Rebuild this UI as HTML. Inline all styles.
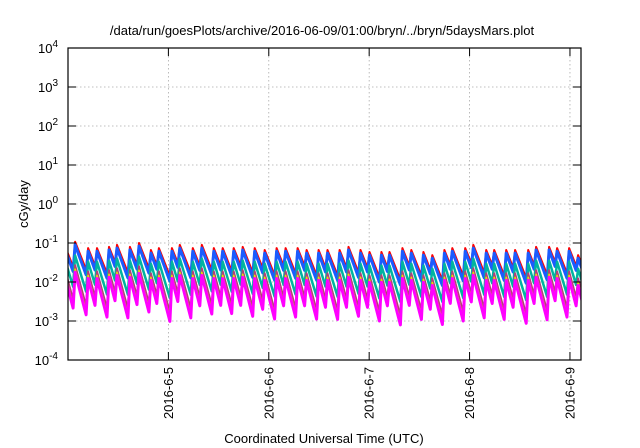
<!DOCTYPE html>
<html><head><meta charset="utf-8"><style>
html,body{margin:0;padding:0;background:#fff;}
svg{display:block;font-family:"Liberation Sans",sans-serif;}
</style></head><body>
<svg id="chart" width="640" height="448" viewBox="0 0 640 448" xmlns="http://www.w3.org/2000/svg">
<text x="322" y="35" font-size="13" text-anchor="middle">/data/run/goesPlots/archive/2016-06-09/01:00/bryn/../bryn/5daysMars.plot</text>
<text transform="translate(28,204) rotate(-90)" font-size="13" text-anchor="middle">cGy/day</text>
<text x="324" y="443" font-size="13" text-anchor="middle">Coordinated Universal Time (UTC)</text>
<g id="grid"></g>
<defs><clipPath id="clip"><rect x="68" y="48" width="513" height="312"/></clipPath></defs>
<g id="series" clip-path="url(#clip)"></g>
<rect x="68" y="48" width="513" height="312" fill="none" stroke="#000" stroke-width="1.2"/>
<g id="ticks"></g>
</svg>
<script>
const yDecades = [-4,-3,-2,-1,0,1,2,3,4];
const xTickDays = [1,2,3,4,5];
const xTickLabels = ["2016-6-5","2016-6-6","2016-6-7","2016-6-8","2016-6-9"];
const spikeTimes = [-0.03,0.071,0.200,0.289,0.408,0.488,0.617,0.707,0.826,0.905,1.035,1.114,1.243,1.333,1.452,1.541,1.651,1.740,1.860,1.959,2.078,2.168,2.287,2.377,2.496,2.585,2.705,2.794,2.914,3.003,3.122,3.202,3.331,3.420,3.540,3.629,3.749,3.828,3.957,4.037,4.166,4.245,4.365,4.454,4.584,4.663,4.792,4.872,4.991,5.081];
const spikePeaksLog = [-1.08,-0.97,-1.13,-1.13,-1.10,-1.05,-1.10,-1.0,-1.18,-1.13,-1.13,-1.05,-1.13,-1.05,-1.13,-1.13,-1.13,-1.10,-1.13,-1.18,-1.13,-1.13,-1.13,-1.18,-1.18,-1.18,-1.18,-1.10,-1.18,-1.23,-1.23,-1.23,-1.13,-1.18,-1.23,-1.31,-1.18,-1.13,-1.13,-1.05,-1.18,-1.18,-1.18,-1.18,-1.18,-1.10,-1.10,-1.13,-1.13,-1.31];
const seriesColors = ["#ff0000","#1a5cff","#00b4a0","#b0407a","#e8e000","#ff00ff"];
const seriesOffsets = [0,-0.08,-0.35,-0.6,-0.7,-0.78];
const seriesDecays = [6.5,7,8.5,9.5,9.8,10];
const seriesWidths = [2,3,2.5,2,1.5,3];

const X0=68, X1=581, Y0=48, Y1=360, D0=0, D1=5.11;
const xs = d => X0 + (d-D0)/(D1-D0)*(X1-X0);
const ys = l => Y1 - (l+4)/8*(Y1-Y0);
const NS="http://www.w3.org/2000/svg";
function mk(tag, attrs, parent){const e=document.createElementNS(NS,tag);for(const k in attrs)e.setAttribute(k,attrs[k]);parent.appendChild(e);return e;}
const grid=document.getElementById('grid'), ticks=document.getElementById('ticks'), ser=document.getElementById('series');

yDecades.forEach(p=>{
  const y=ys(p);
  if(p>-4&&p<4){const g=mk('line',{x1:X0,x2:X1,y1:y,y2:y,stroke:'#aaa','stroke-width':0.8,'stroke-dasharray':'1.5,2.5'},grid);
  
  }
  const t1=mk('line',{x1:X0,x2:X0+8,y1:y,y2:y,stroke:'#000','stroke-width':1},ticks);
  
  
  const t2=mk('line',{x1:X1-8,x2:X1,y1:y,y2:y,stroke:'#000','stroke-width':1},ticks);
  
  
  const tx=mk('text',{x:58,y:y+5,'font-size':13,'text-anchor':'end'},ticks);
  
  
  const b=document.createElementNS(NS,'tspan');b.textContent='10';tx.appendChild(b);
  const s=mk('tspan',{dy:-6,'font-size':10},tx);s.textContent=String(p);
});
xTickDays.forEach((d,i)=>{
  const x=xs(d);
  const g=mk('line',{x1:x,x2:x,y1:Y0,y2:Y1,stroke:'#aaa','stroke-width':0.8,'stroke-dasharray':'1.5,2.5'},grid);
  
  
  const t1=mk('line',{x1:x,x2:x,y1:Y1-8,y2:Y1,stroke:'#000','stroke-width':1},ticks);
  
  
  const t2=mk('line',{x1:x,x2:x,y1:Y0,y2:Y0+8,stroke:'#000','stroke-width':1},ticks);
  
  
  const tx=mk('text',{transform:`translate(${x+4.5},367) rotate(-90)`,'font-size':13,'text-anchor':'end'},ticks);
  
  
  tx.textContent=xTickLabels[i];
});
seriesColors.forEach((c,si)=>{
  const off=seriesOffsets[si], dec=seriesDecays[si];
  const pts=[];
  for(let i=0;i<spikeTimes.length;i++){
    const t=spikeTimes[i], pk=spikePeaksLog[i]+off;
    if(i>0){const pt=spikeTimes[i-1], ppk=spikePeaksLog[i-1]+off;
      pts.push([xs(t-0.02), ys(ppk-dec*(t-0.02-pt))]);}
    pts.push([xs(t), ys(pk)]);
    if(i===spikeTimes.length-1) pts.push([xs(D1+0.2), ys(pk-dec*(D1+0.2-t))]);
  }
  const pl=mk('polyline',{points:pts.map(p=>p[0].toFixed(1)+','+p[1].toFixed(1)).join(' '),fill:'none',stroke:c,'stroke-width':seriesWidths[si],'stroke-linejoin':'round'},ser);
  
  
});
</script>
</body></html>
